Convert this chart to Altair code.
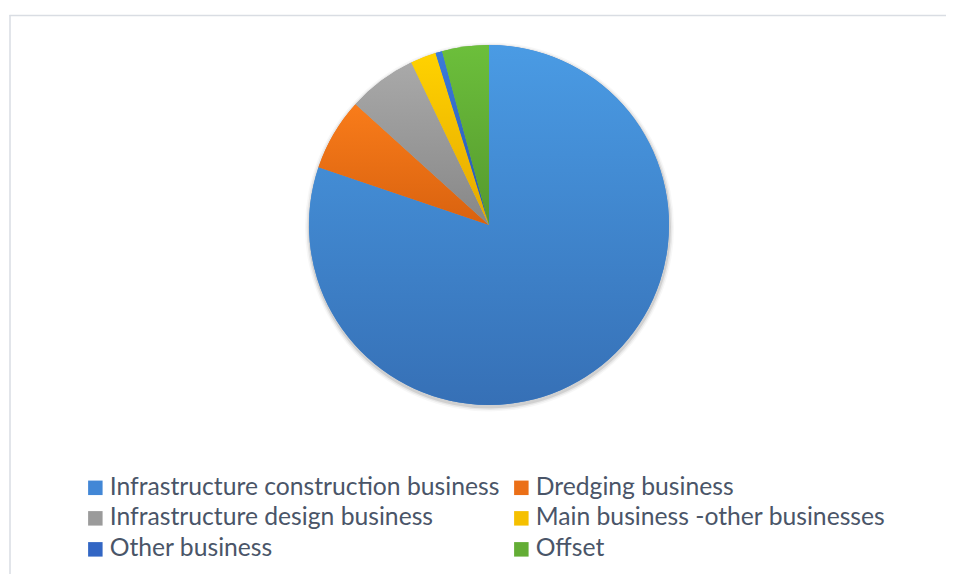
import altair as alt
import pandas as pd

categories = [
    "Infrastructure construction business",
    "Dredging business",
    "Infrastructure design business",
    "Main business -other businesses",
    "Other business",
    "Offset",
]
shares = [80.2, 6.5, 6.2, 2.3, 0.6, 4.2]
flat_colors = ["#4287d6", "#eb6f17", "#9b9b9b", "#f5c000", "#3266c4", "#63ad35"]
grad_top = ["#4a9be4", "#f97c1a", "#a9a9a9", "#ffd200", "#3b7bdb", "#6cbf3b"]
grad_bottom = ["#3670b6", "#d9620f", "#878787", "#e5a800", "#2856ab", "#55992e"]

# legend fills column by column: order entries so rows read left to right
legend_order = [categories[i] for i in (0, 2, 4, 1, 3, 5)]
legend_colors = [flat_colors[i] for i in (0, 2, 4, 1, 3, 5)]

df = pd.DataFrame({"category": categories, "share": shares, "order": list(range(len(categories)))})

W, H = 938, 566
CX, CY, R = 481, 217, 180
theta_scale = alt.Scale(domain=[0, sum(shares)])

base = alt.Chart(df).transform_window(
    cum="sum(share)", sort=[alt.SortField("order")], frame=[None, 0]
).transform_calculate(start="datum.cum - datum.share")

one = alt.Data(values=[{}])
shadows = []
for rad, op in [(184.5, 0.03), (183, 0.06), (181.5, 0.10)]:
    shadows.append(
        alt.Chart(one).mark_arc(
            outerRadius=rad, theta=0, theta2=6.2832, fill="#000000", opacity=op
        ).encode(x=alt.value(CX + 0.5), y=alt.value(CY + 2))
    )

flat = base.mark_arc(outerRadius=R).encode(
    theta=alt.Theta("start:Q", scale=theta_scale),
    theta2="cum:Q",
    x=alt.value(CX),
    y=alt.value(CY),
    color=alt.Color(
        "category:N",
        scale=alt.Scale(domain=legend_order, range=legend_colors),
        legend=alt.Legend(
            title=None,
            orient="none",
            legendX=75,
            legendY=467,
            columns=2,
            columnPadding=9,
            rowPadding=5,
            symbolType="square",
            symbolSize=210,
            symbolStrokeWidth=0,
            labelFontSize=24.7,
            labelFont="Lato",
            labelColor="#4a5568",
            labelLimit=0,
            labelOffset=2,
            padding=0,
        ),
    ),
)

layers = [flat]
for i in range(len(categories)):
    grad = {
        "gradient": "linear",
        "x1": 0, "y1": 0, "x2": 0, "y2": 1,
        "stops": [
            {"offset": 0, "color": grad_top[i]},
            {"offset": 1, "color": grad_bottom[i]},
        ],
    }
    layers.append(
        base.transform_filter(alt.datum.order == i).mark_arc(outerRadius=R).encode(
            theta=alt.Theta("start:Q", scale=theta_scale),
            theta2="cum:Q",
            x=alt.value(CX),
            y=alt.value(CY),
            fill=alt.value(grad),
        )
    )

frame_top = alt.Chart(one).mark_rule(stroke="#d9dde3", strokeWidth=1.5).encode(
    x=alt.value(1.5), x2=alt.value(W), y=alt.value(7.5)
)
frame_left = alt.Chart(one).mark_rule(stroke="#d9dde3", strokeWidth=1.5).encode(
    x=alt.value(2), y=alt.value(7), y2=alt.value(H)
)

chart = alt.layer(frame_top, frame_left, *shadows, *layers).properties(
    width=W, height=H, autosize=alt.AutoSizeParams(type="none"), padding=0
).configure_view(stroke=None)

chart.save("out.html", embed_options={"renderer": "svg", "actions": False})
